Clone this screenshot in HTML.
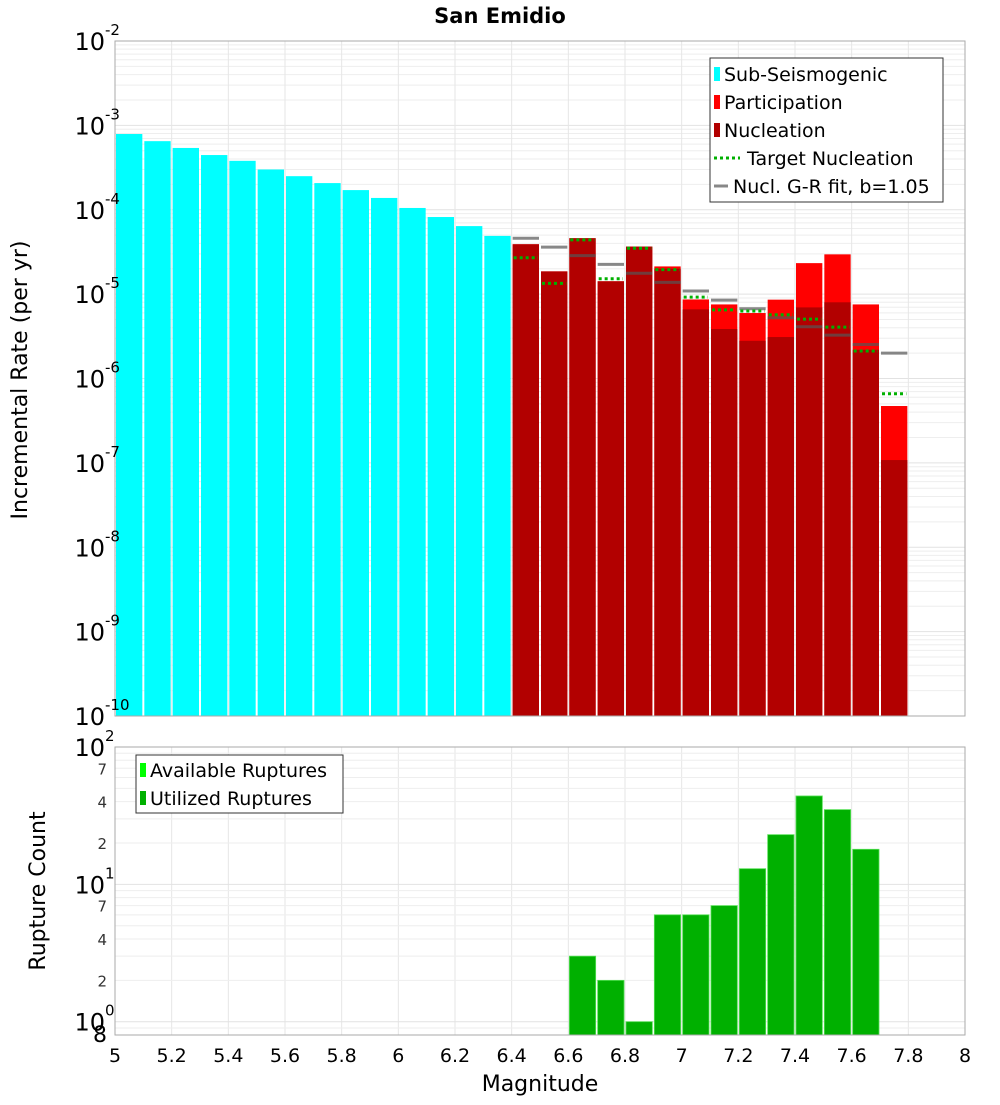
<!DOCTYPE html>
<html><head><meta charset="utf-8">
<style>
body{margin:0;background:#fff;font-family:"Liberation Sans","DejaVu Sans",sans-serif;}
svg text{font-family:"DejaVu Sans","Liberation Sans",sans-serif;}
</style></head>
<body>
<svg id="chart" width="1000" height="1100" viewBox="0 0 1000 1100" xmlns="http://www.w3.org/2000/svg">
<text x="500" y="23" text-anchor="middle" font-size="21" font-weight="bold">San Emidio</text>
<g id="topplot"></g>
<g id="botplot"></g>
</svg>
<script>
const binMags = [5.05,5.15,5.25,5.35,5.45,5.55,5.65,5.75,5.85,5.95,6.05,6.15,6.25,6.35];
const subSeisRates = [7.9e-4,6.5e-4,5.4e-4,4.45e-4,3.8e-4,3.0e-4,2.5e-4,2.07e-4,1.71e-4,1.38e-4,1.05e-4,8.2e-5,6.4e-5,4.9e-5];
const supraMags = [6.45,6.55,6.65,6.75,6.85,6.95,7.05,7.15,7.25,7.35,7.45,7.55,7.65,7.75];
const participation = [3.9e-5,1.86e-5,4.6e-5,1.42e-5,3.66e-5,2.13e-5,8.65e-6,7.55e-6,5.97e-6,8.6e-6,2.33e-5,2.96e-5,7.55e-6,4.72e-7];
const nucleation = [3.9e-5,1.86e-5,4.6e-5,1.42e-5,3.66e-5,2.0e-5,6.6e-6,3.86e-6,2.8e-6,3.1e-6,6.96e-6,8.0e-6,2.19e-6,1.08e-7];
const targetNucl = [2.7e-5,1.34e-5,4.4e-5,1.52e-5,3.5e-5,1.95e-5,9.2e-6,6.5e-6,6.3e-6,5.7e-6,5.06e-6,4.06e-6,2.12e-6,6.6e-7];
const grFit = [4.6e-5,3.6e-5,2.86e-5,2.25e-5,1.77e-5,1.38e-5,1.09e-5,8.5e-6,6.7e-6,5.25e-6,4.1e-6,3.27e-6,2.53e-6,2.0e-6];
const countMags = [6.65,6.75,6.85,6.95,7.05,7.15,7.25,7.35,7.45,7.55,7.65];
const utilizedCounts = [3,2,1,6,6,7,13,23,44,35,18];
const xTicks = [5,5.2,5.4,5.6,5.8,6,6.2,6.4,6.6,6.8,7,7.2,7.4,7.6,7.8,8];
const topDecades = [-2,-3,-4,-5,-6,-7,-8,-9,-10];
const botMinorLabels = [2,4,7,20,40,70];

const NS="http://www.w3.org/2000/svg";
const X0=115,X1=965,XMIN=5,XMAX=8;
const xs=m=>X0+(m-XMIN)/(XMAX-XMIN)*(X1-X0);
const T0=41,T1=716,TLMAX=-2,TLMIN=-10;
const yt=v=>T0+(TLMAX-Math.log10(v))/(TLMAX-TLMIN)*(T1-T0);
const B0=747,B1=1035,BLMAX=2,BLMIN=Math.log10(0.8);
const yb=v=>B0+(BLMAX-Math.log10(v))/(BLMAX-BLMIN)*(B1-B0);
const hw=(xs(5.1)-xs(5))/2;
function el(p,t,a){const e=document.createElementNS(NS,t);for(const k in a)e.setAttribute(k,a[k]);p.appendChild(e);return e;}
const topG=document.getElementById('topplot'),botG=document.getElementById('botplot');

for(let d=-10;d<-2;d++){for(let k=2;k<10;k++){const g=el(topG,'line',{x1:X0,x2:X1,y1:yt(k*Math.pow(10,d)),y2:yt(k*Math.pow(10,d)),stroke:'#eeeeee','stroke-width':1});

}}
topDecades.forEach(d=>{const g=el(topG,'line',{x1:X0,x2:X1,y1:yt(Math.pow(10,d)),y2:yt(Math.pow(10,d)),stroke:'#e2e2e2','stroke-width':1});

});
xTicks.forEach(t=>{[topG,botG].forEach((p,i)=>{const g=el(p,'line',{x1:xs(t),x2:xs(t),y1:i?B0:T0,y2:i?B1:T1,stroke:'#e6e6e6','stroke-width':1});

});});

binMags.forEach((m,i)=>{const y=yt(subSeisRates[i]);const r=el(topG,'rect',{x:xs(m)-hw+1,y:y,width:2*hw-2,height:T1-y,fill:'#00ffff'});

});
supraMags.forEach((m,i)=>{const y=yt(participation[i]);const r=el(topG,'rect',{x:xs(m)-hw+1,y:y,width:2*hw-2,height:T1-y,fill:'#ff0000'});


const yn=yt(nucleation[i]);const n=el(topG,'rect',{x:xs(m)-hw+1,y:yn,width:2*hw-2,height:T1-yn,fill:'#b20000'});

});
supraMags.forEach((m,i)=>{const yg=yt(grFit[i]);const g=el(topG,'line',{x1:xs(m)-hw+1,x2:xs(m)+hw-1,y1:yg,y2:yg,stroke:'#555','stroke-opacity':0.7,'stroke-width':3});


const ytg=yt(targetNucl[i]);const t=el(topG,'line',{x1:xs(m)-hw+2,x2:xs(m)+hw-2,y1:ytg,y2:ytg,stroke:'#00b000','stroke-width':3,'stroke-dasharray':'3,3'});

});
const tf=el(topG,'rect',{x:X0,y:T0,width:X1-X0,height:T1-T0,fill:'none',stroke:'#aaa','stroke-width':1});


topDecades.forEach(d=>{const y=yt(Math.pow(10,d));const t=el(topG,'text',{x:105,y:y+9,'text-anchor':'end','font-size':24});


t.textContent='10';const s=el(topG,'text',{x:105,y:y-6,'font-size':15});


s.textContent=String(d);});
const yl=el(topG,'text',{x:0,y:0,transform:'translate(27,380) rotate(-90)','text-anchor':'middle','font-size':22});


yl.textContent='Incremental Rate (per yr)';

const lg=el(topG,'g',{});


el(lg,'rect',{x:710,y:58,width:233,height:144,fill:'#fff',stroke:'#333','stroke-width':1});
const items=[['Sub-Seismogenic','#00ffff','box'],['Participation','#ff0000','box'],['Nucleation','#b20000','box'],['Target Nucleation','#00b000','dash'],['Nucl. G-R fit, b=1.05','#888','line']];
items.forEach((it,i)=>{const y=74+i*28;const g=el(lg,'g',{});


let tx=724;
if(it[2]==='box')el(g,'rect',{x:714,y:y-7,width:6,height:14,fill:it[1]});
else if(it[2]==='dash'){el(g,'line',{x1:714,x2:740,y1:y,y2:y,stroke:it[1],'stroke-width':3,'stroke-dasharray':'3,3'});tx=747;}
else {el(g,'line',{x1:714,x2:728,y1:y,y2:y,stroke:it[1],'stroke-width':3});tx=733;}
const t=el(g,'text',{x:tx,y:y+7,'font-size':19});t.textContent=it[0];});

for(let d=-1;d<2;d++){for(let k=1;k<10;k++){const v=k*Math.pow(10,d);if(v<0.8)continue;const g=el(botG,'line',{x1:X0,x2:X1,y1:yb(v),y2:yb(v),stroke:k===1?'#e2e2e2':'#eeeeee','stroke-width':1});

}}
countMags.forEach((m,i)=>{const y=yb(utilizedCounts[i]);const r=el(botG,'rect',{x:xs(m)-hw+1,y:y,width:2*hw-2,height:B1-y,fill:'#00b000',stroke:'#55e055','stroke-width':0.8});

});
const bf=el(botG,'rect',{x:X0,y:B0,width:X1-X0,height:B1-B0,fill:'none',stroke:'#aaa','stroke-width':1});


[2,1,0].forEach(d=>{const y=yb(Math.pow(10,d));const t=el(botG,'text',{x:105,y:y+9,'text-anchor':'end','font-size':24});


t.textContent='10';const s=el(botG,'text',{x:105,y:y-6,'font-size':15});


s.textContent=String(d);});
botMinorLabels.forEach(v=>{const t=el(botG,'text',{x:107,y:yb(v)+6,'text-anchor':'end','font-size':15,fill:'#333'});


t.textContent=String(v>=10?v/10:v);});
const e8=el(botG,'text',{x:107,y:1042,'text-anchor':'end','font-size':22});


e8.textContent='8';
const yl2=el(botG,'text',{x:0,y:0,transform:'translate(45,891) rotate(-90)','text-anchor':'middle','font-size':22});


yl2.textContent='Rupture Count';
xTicks.forEach(t=>{const tx=el(botG,'text',{x:xs(t),y:1062,'text-anchor':'middle','font-size':19});


tx.textContent=String(t);});
const xl=el(botG,'text',{x:540,y:1091,'text-anchor':'middle','font-size':22});


xl.textContent='Magnitude';
const lg2=el(botG,'g',{});


el(lg2,'rect',{x:136,y:755,width:207,height:58,fill:'#fff',stroke:'#333','stroke-width':1});
[['Available Ruptures','#00ff00'],['Utilized Ruptures','#00b000']].forEach((it,i)=>{const y=770+i*28;const g=el(lg2,'g',{});


el(g,'rect',{x:140,y:y-7,width:6,height:14,fill:it[1]});
const t=el(g,'text',{x:150,y:y+7,'font-size':19});t.textContent=it[0];});
</script>
</body></html>
